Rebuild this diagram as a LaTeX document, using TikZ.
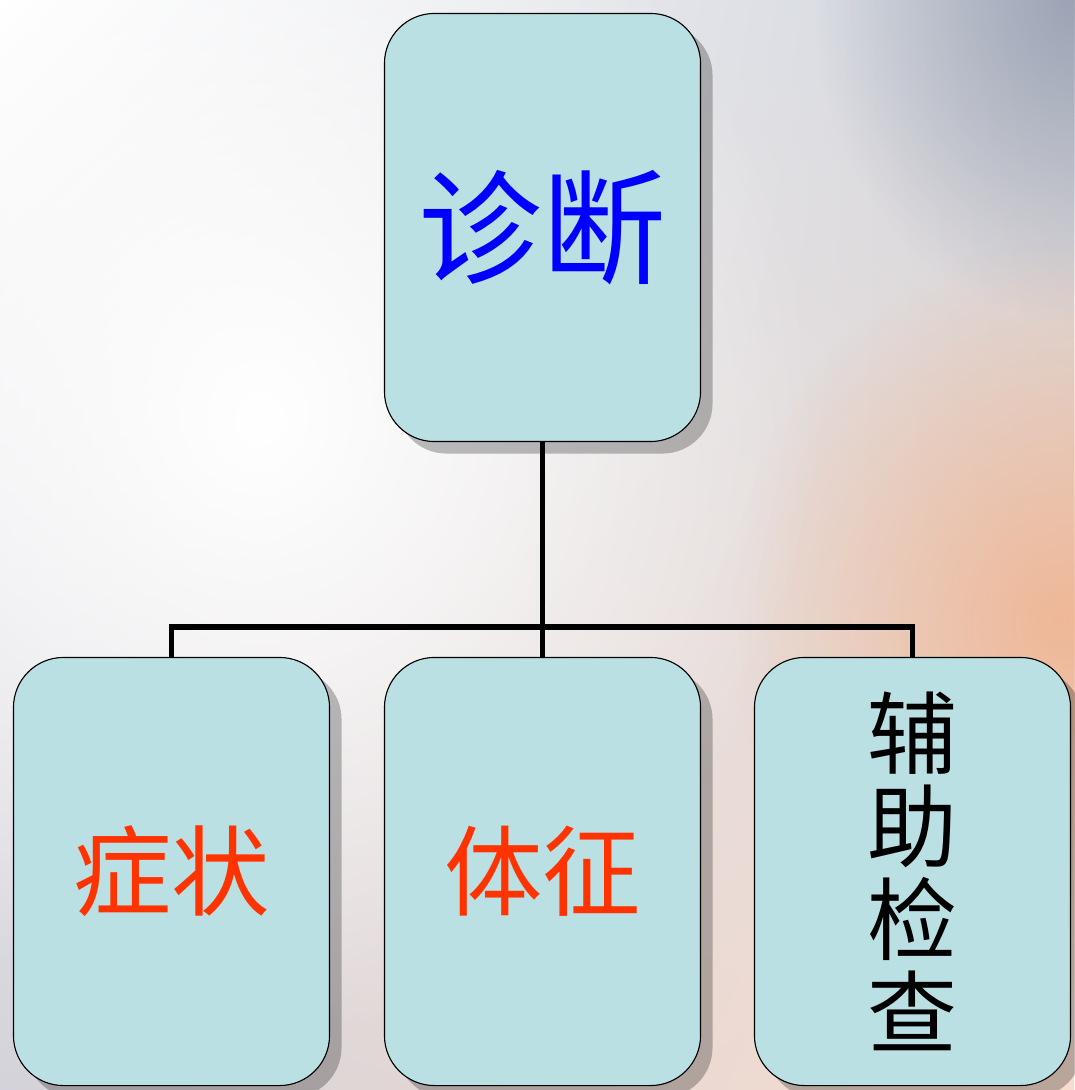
\documentclass[tikz,border=0pt]{standalone}
\usepackage{fontspec}
\newfontfamily\cjk{Noto Sans CJK SC}
\usetikzlibrary{
    positioning,
    shadows,
    shadings,
    fadings
}
\definecolor{boxcyan}{RGB}{186, 224, 227}
\definecolor{titleblue}{RGB}{0, 0, 255}
\definecolor{itemred}{RGB}{255, 51, 0}
\definecolor{bgslate}{RGB}{150, 158, 176}
\definecolor{bgpeach}{RGB}{240, 180, 145}
\definecolor{bgpale}{RGB}{212, 210, 218}
\tikzfading[name=glow, inner color=transparent!0, outer color=transparent!100]

\begin{document}
\begin{tikzpicture}[
        x=0.025cm, y=-0.025cm,
        block/.style={draw, line width=0.8pt, rounded corners=1.25cm, fill=boxcyan,
            minimum width=7.9cm, minimum height=10.7cm, inner sep=0pt, align=center,
            drop shadow={shadow xshift=0.3cm, shadow yshift=-0.3cm, fill=black, opacity=0.25}},
        conn/.style={line width=4pt}
    ]
        % Background
        \useasboundingbox (0,0) rectangle (1074,1090);
        \shade[upper left=white, upper right=white!55!bgslate, lower left=bgpale, lower right=bgpeach!45]
            (0,0) rectangle (1074,1090);
        \fill[bgslate, path fading=glow, opacity=0.9] (1074,0) ellipse (260 and 320);
        \fill[bgpeach, path fading=glow, opacity=0.9] (1060,620) ellipse (330 and 380);
        \fill[white, path fading=glow] (260,420) ellipse (560 and 620);

        % Top
        \node[block, font=\cjk\fontsize{88pt}{90pt}\selectfont, text=titleblue] (zd) at (542.5, 227.5) {诊断};

        % Bottom row
        \node[block, font=\cjk\fontsize{70pt}{72pt}\selectfont, text=itemred] (zz) at (171.5, 871.5) {症状};
        \node[block, font=\cjk\fontsize{70pt}{72pt}\selectfont, text=itemred] (tz) at (542.5, 871.5) {体征};
        \node[block, font=\cjk\fontsize{64pt}{66pt}\selectfont] (fz) at (912.5, 871.5) {辅\\助\\检\\查};

        % Connectors
        \coordinate (bus) at (542.5, 627);
        \draw[conn] (zd.south) -- (tz.north);
        \draw[conn] (zz.north) |- (bus) -| (fz.north);
    \end{tikzpicture}
\end{document}
